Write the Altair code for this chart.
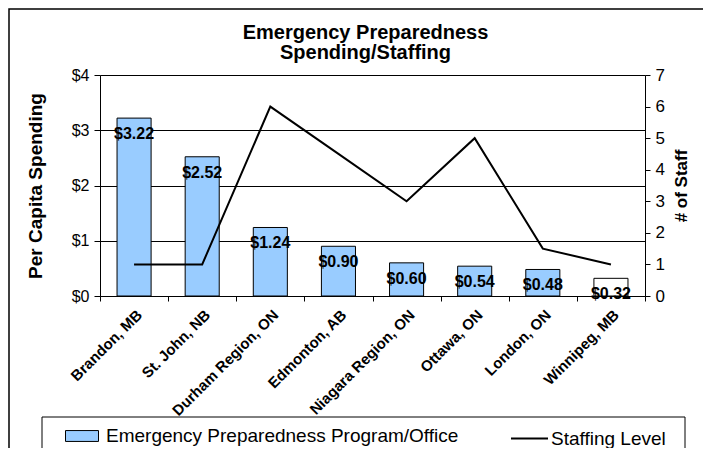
import altair as alt
import pandas as pd

cities = ["Brandon, MB", "St. John, NB", "Durham Region, ON", "Edmonton, AB",
          "Niagara Region, ON", "Ottawa, ON", "London, ON", "Winnipeg, MB"]
spending = [3.22, 2.52, 1.24, 0.90, 0.60, 0.54, 0.48, 0.32]
staff = [1, 1, 6, 4.5, 3, 5, 1.5, 1]
bar_series = "Emergency Preparedness Program/Office"
line_series = "Staffing Level"
left_ticks = [0, 1, 2, 3, 4]
right_ticks = [0, 1, 2, 3, 4, 5, 6, 7]

df = pd.DataFrame({"city": cities, "spending": spending, "staff": staff})

FONT = "Liberation Sans"

xenc = alt.X(
    "city:N", sort=cities,
    scale=alt.Scale(paddingInner=0, paddingOuter=0),
    axis=alt.Axis(title=None, labelAngle=-45, labelAlign="right", labelBaseline="top",
                  labelFontWeight="bold", labelFontSize=15, tickBand="extent", tickSize=5,
                  labelPadding=6, domainColor="black", tickColor="black", labelColor="black",
                  labelFont=FONT),
)

bar_legend = alt.Legend(
    title=None, orient="none", legendX=-35, legendY=344, direction="horizontal",
    labelFontSize=19, labelFont=FONT, labelColor="black", padding=0, labelLimit=500,
    symbolType="M-1,-0.33H1V0.33H-1Z", symbolSize=1089, symbolStrokeColor="black",
    symbolStrokeWidth=1, labelOffset=7,
)
line_legend = alt.Legend(
    title=None, orient="none", legendX=410, legendY=344, direction="horizontal",
    labelFontSize=19, labelFont=FONT, labelColor="black", padding=0, labelLimit=500,
    symbolType="M-1,0H1", symbolSize=1369, symbolStrokeWidth=2, labelOffset=2,
)

base = alt.Chart(df).encode(x=xenc)

left_y = alt.Y("spending:Q", scale=alt.Scale(domain=[0, 4]),
               axis=alt.Axis(title="Per Capita Spending", values=left_ticks, format="$.0f",
                             grid=True, gridColor="black", gridWidth=1, domainColor="black",
                             tickColor="black", tickSize=6, labelFontSize=16, labelPadding=5,
                             labelColor="black", titleFontSize=19, titleFontWeight="bold",
                             titleColor="black", titlePadding=26, labelFont=FONT, titleFont=FONT))

bars = base.transform_calculate(series=f"'{bar_series}'").mark_bar(
    width=alt.RelativeBandSize(0.5), stroke="black", strokeWidth=1
).encode(
    y=left_y,
    fill=alt.condition("datum.city == 'Winnipeg, MB'", alt.value("white"),
                       alt.Fill("series:N", scale=alt.Scale(domain=[bar_series], range=["#99CCFF"]),
                                legend=bar_legend)),
)

labels = base.mark_text(dy=16, fontWeight="bold", fontSize=16, font=FONT, color="black").encode(
    y=alt.Y("spending:Q"),
    text=alt.Text("spending:Q", format="$.2f"),
)

line = base.transform_calculate(series=f"'{line_series}'").mark_line(strokeWidth=2).encode(
    y=alt.Y("staff:Q", scale=alt.Scale(domain=[0, 7]),
            axis=alt.Axis(orient="right", title="# of Staff", values=right_ticks, grid=False,
                          domainColor="black", tickColor="black", tickSize=5, labelPadding=5,
                          labelFontSize=17, labelColor="black", titleFontSize=17,
                          titleFontWeight="bold", titleColor="black", titleAngle=270,
                          titleBaseline="top", titlePadding=9, labelFont=FONT, titleFont=FONT)),
    stroke=alt.Stroke("series:N", scale=alt.Scale(domain=[line_series], range=["black"]),
                      legend=line_legend),
)

frame = alt.Chart(alt.Data(values=[{"a": 1}])).mark_rect(
    fillOpacity=0, stroke="black", strokeWidth=1.5
).encode(x=alt.value(-91), x2=alt.value(700), y=alt.value(-66), y2=alt.value(450))

legend_box = alt.Chart(alt.Data(values=[{"a": 1}])).mark_rect(
    fill="white", stroke="black", strokeWidth=1
).encode(x=alt.value(-58), x2=alt.value(585), y=alt.value(342), y2=alt.value(380))

left = alt.layer(bars, labels)

chart = alt.layer(frame, legend_box, left, line).resolve_scale(y="independent").properties(
    width=545, height=221,
    title=alt.Title(["Emergency Preparedness", "Spending/Staffing"], fontSize=20, font=FONT,
                    fontWeight="bold", lineHeight=20, offset=-55, dx=-7, anchor="middle",
                    frame="group", color="black"),
    autosize=alt.AutoSizeParams(type="none"),
    padding={"left": 92, "top": 67, "right": 58, "bottom": 152},
).configure_view(fill="#C0C0C0", stroke="#808080", strokeWidth=1).configure(background="white")

chart.save("out.html", embed_options={"renderer": "svg", "actions": False})
